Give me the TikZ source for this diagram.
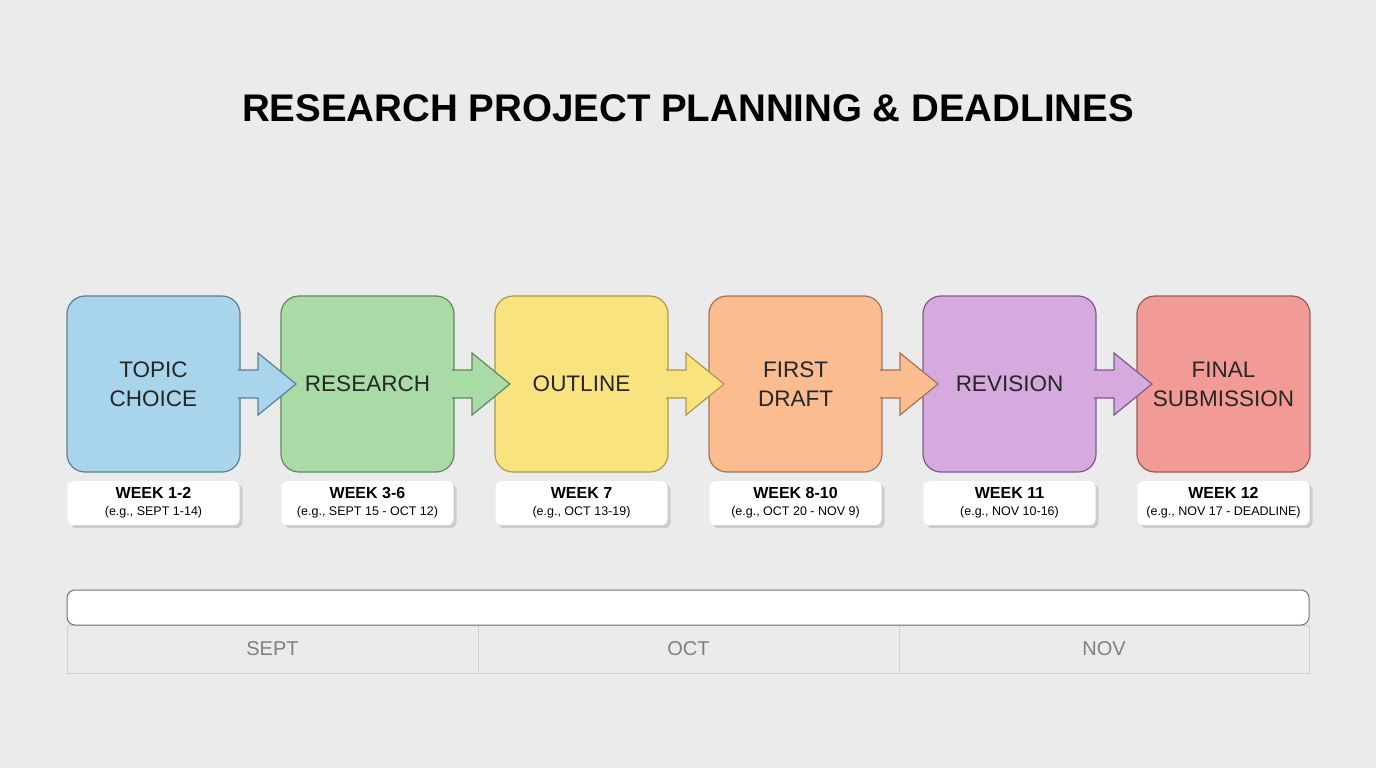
\documentclass[tikz,border=0pt]{standalone}
\usepackage{fontspec}
\setmainfont{Liberation Sans}
\usetikzlibrary{positioning, calc, shadows}

\definecolor{bgcol}{HTML}{EBEBEB}
\definecolor{bluefill}{HTML}{A8D4EC}
\definecolor{blueline}{HTML}{5B7F93}
\definecolor{greenfill}{HTML}{A9DBA6}
\definecolor{greenline}{HTML}{5E8A5C}
\definecolor{yellowfill}{HTML}{F8E37E}
\definecolor{yellowline}{HTML}{A89A4E}
\definecolor{orangefill}{HTML}{FBBC8F}
\definecolor{orangeline}{HTML}{A0745A}
\definecolor{purplefill}{HTML}{D6AADF}
\definecolor{purpleline}{HTML}{7E5A88}
\definecolor{redfill}{HTML}{F29B96}
\definecolor{redline}{HTML}{9A5A58}

\tikzset{
stage/.style={draw, line width=1.2pt, outer sep=0pt, rounded corners=18pt, minimum width=173pt, minimum height=176pt, align=center, text=black!85, font=\fontsize{22.5}{29}\selectfont}, % the coloured phase boxes
week/.style={fill=white, rounded corners=6pt, minimum width=172pt, minimum height=44pt, inner sep=0pt, align=center, font=\fontsize{16}{17}\selectfont, drop shadow={shadow xshift=3pt, shadow yshift=-3pt, fill=black!20, opacity=1}}, % date cards under the boxes
flow/.style={line width=1.2pt, line join=miter}, % block arrows between phases
month/.style={draw=black!18, line width=0.8pt, outer sep=0pt, minimum height=48pt, inner sep=0pt, anchor=north west, text=black!50, font=\fontsize{20}{24}\selectfont}, % month cells of the timeline
}

% block arrow from one phase box into the next: from, to, fill, line
\newcommand{\stagearrow}[4]{%
  \filldraw[flow, fill=#3, draw=#4]
    ($(#1.east)+(-2,14)$) -- ($(#1.east)+(18,14)$) -- ($(#1.east)+(18,31)$)
    -- ($(#2.west)+(15,0)$)
    -- ($(#1.east)+(18,-31)$) -- ($(#1.east)+(18,-14)$) -- ($(#1.east)+(-2,-14)$);}

\begin{document}
\begin{tikzpicture}[x=1pt, y=-1pt]
        \useasboundingbox[fill=bgcol] (0,0) rectangle (1376,768);

        \node[font=\fontsize{38.5}{44}\selectfont\bfseries] (title) at (688,108) {RESEARCH PROJECT PLANNING \& DEADLINES};

        \node[stage, fill=bluefill,   draw=blueline  ] (topic) at (153.5,384) {TOPIC\\CHOICE};
        \node[stage, fill=greenfill,  draw=greenline,  right=41pt of topic] (research) {RESEARCH};
        \node[stage, fill=yellowfill, draw=yellowline, right=41pt of research] (outline) {OUTLINE};
        \node[stage, fill=orangefill, draw=orangeline, right=41pt of outline] (draft) {FIRST\\DRAFT};
        \node[stage, fill=purplefill, draw=purpleline, right=41pt of draft] (revision) {REVISION};
        \node[stage, fill=redfill,    draw=redline,    right=41pt of revision] (final) {FINAL\\SUBMISSION};

        \stagearrow{topic}{research}{bluefill}{blueline}
        \stagearrow{research}{outline}{greenfill}{greenline}
        \stagearrow{outline}{draft}{yellowfill}{yellowline}
        \stagearrow{draft}{revision}{orangefill}{orangeline}
        \stagearrow{revision}{final}{purplefill}{purpleline}

        \node[week, below=9pt of topic] (wk1) {\textbf{WEEK 1-2}\\{\fontsize{12.5}{15}\selectfont (e.g., SEPT 1-14)}};
        \node[week, below=9pt of research] (wk2) {\textbf{WEEK 3-6}\\{\fontsize{12.5}{15}\selectfont (e.g., SEPT 15 - OCT 12)}};
        \node[week, below=9pt of outline] (wk3) {\textbf{WEEK 7}\\{\fontsize{12.5}{15}\selectfont (e.g., OCT 13-19)}};
        \node[week, below=9pt of draft] (wk4) {\textbf{WEEK 8-10}\\{\fontsize{12.5}{15}\selectfont (e.g., OCT 20 - NOV 9)}};
        \node[week, below=9pt of revision] (wk5) {\textbf{WEEK 11}\\{\fontsize{12.5}{15}\selectfont (e.g., NOV 10-16)}};
        \node[week, below=9pt of final] (wk6) {\textbf{WEEK 12}\\{\fontsize{12.5}{15}\selectfont (e.g., NOV 17 - DEADLINE)}};

        % timeline
        \node[month, minimum width=411pt] (sept) at (67,625) {SEPT};
        \node[month, minimum width=421pt] (oct) at (sept.north east) {OCT};
        \node[month, minimum width=410pt] (nov) at (oct.north east) {NOV};
        \node[draw=black!55, line width=1pt, fill=white, rounded corners=8pt, minimum width=1242pt, minimum height=35pt] (bar) at (688,607.5) {};
\end{tikzpicture}
\end{document}
